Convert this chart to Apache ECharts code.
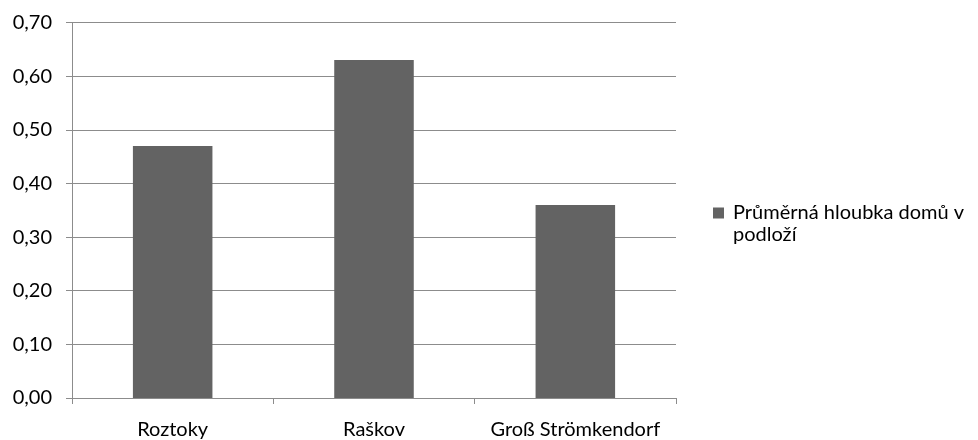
<!DOCTYPE html>
<html>
<head>
<meta charset="utf-8">
<script src="https://cdn.jsdelivr.net/npm/echarts@6/dist/echarts.min.js"></script>
<style>
html,body{margin:0;padding:0;background:#fff;}
#c{width:978px;height:440px;}
</style>
</head>
<body>
<div id="c"></div>
<script>
const categories = ['Roztoky', 'Raškov', 'Groß Strömkendorf'];
const seriesName = 'Průměrná hloubka domů v podloží';
const legendLines = ['Průměrná hloubka domů v', 'podloží'];
const values = [0.47, 0.63, 0.36];
const yTicks = [0, 0.1, 0.2, 0.3, 0.4, 0.5, 0.6, 0.7];

const FONT = 'Lato';
const FS = 20;
const chart = echarts.init(document.getElementById('c'), null, {renderer: 'canvas'});
chart.setOption({
  animation: false,
  backgroundColor: '#ffffff',
  textStyle: {fontFamily: FONT},
  grid: {left: 72, right: 302, top: 22.5, bottom: 40, containLabel: false},
  legend: {
    show: true,
    left: 713,
    top: 181,
    padding: 0,
    orient: 'vertical',
    icon: 'rect',
    itemWidth: 11,
    itemHeight: 11,
    formatter: function () {
      return '{a|\u00a0}\n{a|' + legendLines[0] + '}\n{a|' + legendLines[1] + '}';
    },
    textStyle: {
      fontFamily: FONT, fontSize: FS, color: '#000',
      rich: {a: {fontFamily: FONT, fontSize: FS, color: '#000', lineHeight: 22, padding: [0, 0, 0, 4]}}
    },
    data: [seriesName]
  },
  xAxis: {
    type: 'category',
    data: categories,
    axisLine: {show: true, lineStyle: {color: '#8c8c8c', width: 1}},
    axisTick: {show: true, alignWithLabel: false, interval: 0, length: 6, lineStyle: {color: '#8c8c8c'}},
    axisLabel: {fontFamily: FONT, fontSize: FS, color: '#000', margin: 22, interval: 0, hideOverlap: false},
    splitLine: {show: false}
  },
  yAxis: {
    type: 'value',
    min: 0,
    max: 0.7,
    interval: 0.1,
    axisLine: {show: true, lineStyle: {color: '#8c8c8c', width: 1}},
    axisTick: {show: true, length: 6, lineStyle: {color: '#8c8c8c'}},
    axisLabel: {
      fontFamily: FONT, fontSize: FS, color: '#000', margin: 20,
      formatter: function (v) {
        const t = yTicks.find(x => Math.abs(x - v) < 1e-9);
        return (t !== undefined ? t : v).toFixed(2).replace('.', ',');
      }
    },
    splitLine: {show: true, lineStyle: {color: '#8c8c8c', width: 1}}
  },
  series: [{
    name: seriesName,
    type: 'bar',
    data: values,
    barWidth: '39.5%',
    itemStyle: {color: '#636363'}
  }]
});
</script>
</body>
</html>
